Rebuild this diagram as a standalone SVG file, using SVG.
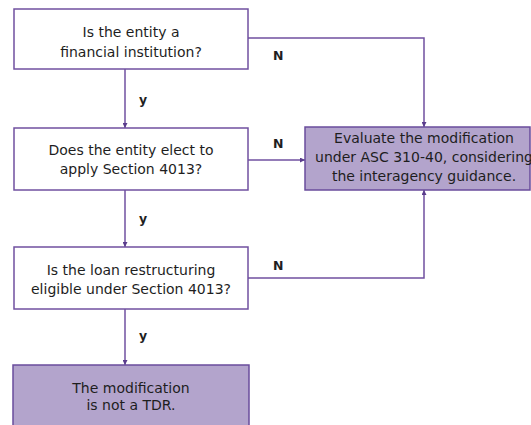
<svg xmlns="http://www.w3.org/2000/svg" width="531" height="425" viewBox="0 0 531 425">
<defs>
<style>
.box{fill:#ffffff;stroke:#7050a0;stroke-width:1.5}
.pbox{fill:#b3a4cc;stroke:#6a4c9c;stroke-width:1.5}
.t{font-family:"DejaVu Sans","Liberation Sans",sans-serif;font-size:14px;fill:#1e1e1e;text-anchor:middle}
.lbl{font-family:"DejaVu Sans","Liberation Sans",sans-serif;font-size:12.5px;fill:#1e1e1e;font-weight:bold}
.c{fill:none;stroke:#7050a0;stroke-width:1.5}
</style>
<marker id="ah" viewBox="0 0 10 10" refX="10" refY="5" markerWidth="5" markerHeight="5" orient="auto" markerUnits="userSpaceOnUse">
<path d="M0,0 L10,5 L0,10 Z" fill="#5a3c8c"/>
</marker>
</defs>
<rect width="531" height="425" fill="#ffffff"/>
<g id="connectors">
<path class="c" d="M125,69 V128" marker-end="url(#ah)"/>
<path class="c" d="M125,190 V247" marker-end="url(#ah)"/>
<path class="c" d="M125,309 V365" marker-end="url(#ah)"/>
<path class="c" d="M248,38 H424 V127" marker-end="url(#ah)"/>
<path class="c" d="M248,160 H305" marker-end="url(#ah)"/>
<path class="c" d="M248,278 H424 V190" marker-end="url(#ah)"/>
<text class="lbl" x="139" y="104">y</text>
<text class="lbl" x="139" y="223">y</text>
<text class="lbl" x="139" y="340">y</text>
<text class="lbl" x="273" y="60">N</text>
<text class="lbl" x="273" y="148">N</text>
<text class="lbl" x="273" y="270">N</text>
</g>
<g id="q1">
<rect class="box" x="14" y="9" width="234" height="60"/>
<text class="t" x="131" y="37">Is the entity a</text>
<text class="t" x="131" y="57">financial institution?</text>
</g>
<g id="q2">
<rect class="box" x="14" y="128" width="234" height="62"/>
<text class="t" x="131" y="155">Does the entity elect to</text>
<text class="t" x="131" y="174">apply Section 4013?</text>
</g>
<g id="q3">
<rect class="box" x="14" y="247" width="234" height="62"/>
<text class="t" x="131" y="275">Is the loan restructuring</text>
<text class="t" x="131" y="294">eligible under Section 4013?</text>
</g>
<g id="tdr">
<rect class="pbox" x="13" y="365" width="236" height="70"/>
<text class="t" x="131" y="393">The modification</text>
<text class="t" x="131" y="410">is not a TDR.</text>
</g>
<g id="evaluate">
<rect class="pbox" x="305" y="127" width="225" height="63"/>
<text class="t" x="424" y="143">Evaluate the modification</text>
<text class="t" x="424" y="162">under ASC 310-40, considering</text>
<text class="t" x="424" y="181">the interagency guidance.</text>
</g>
</svg>
